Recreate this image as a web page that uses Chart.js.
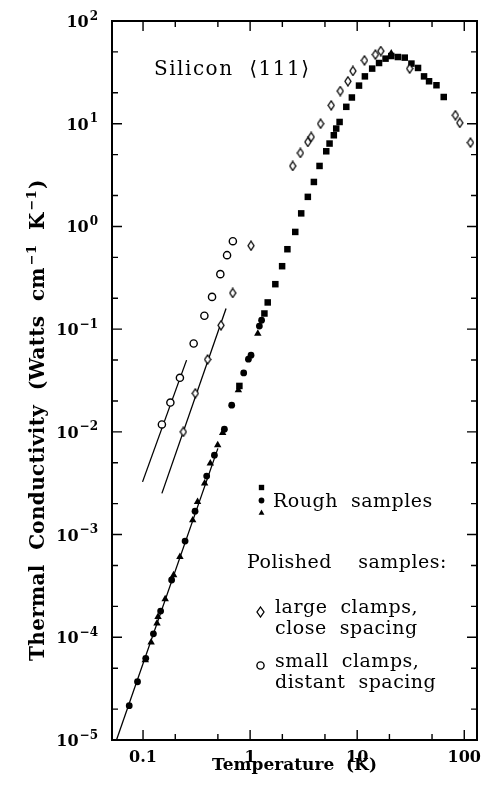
<!DOCTYPE html>
<html><head><meta charset="utf-8">
<script src="https://cdn.jsdelivr.net/npm/chart.js@4.4.0/dist/chart.umd.min.js"></script>
<style>html,body{margin:0;padding:0;background:#fff}canvas{display:block}</style>
</head><body>
<canvas id="c" width="485" height="788"></canvas>
<script>
// ---- axis ticks ----
const xMajorTicks = [0.1, 1, 10, 100];
const xMinorTicks = [0.2, 0.5, 2, 5, 20, 50];
const xTickLabels = ['0.1', '1', '10', '100'];
const yMajorTicks = [1e-5, 1e-4, 1e-3, 1e-2, 1e-1, 1, 10, 100];
const yMinorTicks = [2e-5, 5e-5, 2e-4, 5e-4, 2e-3, 5e-3, 2e-2, 5e-2, 0.2, 0.5, 2, 5, 20, 50];
const yTickBase = '10';
const yTickExponents = ['\u22125', '\u22124', '\u22123', '\u22122', '\u22121', '0', '1', '2'];

// ---- data (Temperature K, Conductivity W cm^-1 K^-1) ----
const roughSquaresT = [0.794,1.36,1.46,1.72,1.99,2.23,2.64,3.00,3.46,3.94,4.45,5.14,5.52,6.05,6.37,6.85,7.91,8.92,10.4,11.8,13.8,16.0,18.4,20.8,24.0,27.8,32.1,37.0,42.1,46.9,55.0,64.3];
const roughSquaresK = [0.0280,0.142,0.182,0.274,0.410,0.600,0.884,1.34,1.94,2.71,3.88,5.39,6.41,7.72,8.97,10.4,14.6,18.0,23.5,28.9,34.4,39.0,43.0,45.6,44.6,44.0,38.5,34.9,28.9,25.9,23.7,18.2];
const roughCirclesT = [1.28,1.22,1.02,0.964,0.871,0.673,0.575,0.464,0.393,0.306,0.247,0.185,0.146,0.125,0.106,0.0888,0.0743];
const roughCirclesK = [0.122,0.107,0.0558,0.0510,0.0375,0.0182,0.0106,0.00593,0.00371,0.00169,0.000865,0.000361,0.000180,0.000108,6.24e-5,3.69e-5,2.16e-5];
const roughTrianglesT = [20.8,1.18,0.777,0.554,0.498,0.425,0.376,0.323,0.291,0.221,0.193,0.161,0.138,0.135,0.119,0.105];
const roughTrianglesK = [48.5,0.0907,0.0255,0.00978,0.00743,0.00493,0.00315,0.00208,0.00138,0.000608,0.000403,0.000236,0.000158,0.000137,8.93e-5,6.0e-5];
const closeDiamondsT = [0.238,0.308,0.401,0.535,0.688,1.02,2.50,2.95,3.46,3.72,4.55,5.72,6.95,8.19,9.12,11.7,14.8,16.6,30.9,82.7,90.8,114.3];
const closeDiamondsK = [0.0100,0.0237,0.0507,0.109,0.225,0.649,3.88,5.19,6.64,7.43,10.0,15.1,20.8,25.9,32.6,41.4,47.1,51.0,34.4,12.1,10.2,6.55];
const distantCirclesT = [0.150,0.180,0.221,0.297,0.374,0.441,0.527,0.609,0.690];
const distantCirclesK = [0.0118,0.0193,0.0336,0.0725,0.135,0.206,0.343,0.525,0.718];
// straight guide lines (end points)
const roughFitT = [0.0565, 0.50];
const roughFitK = [1.0e-5, 0.0069];
const closeFitT = [0.150, 0.596];
const closeFitK = [0.00252, 0.159];
const distantFitT = [0.0989, 0.255];
const distantFitK = [0.00326, 0.0499];

const pts = (T, K) => T.map((t, i) => ({x: t, y: K[i]}));

// open narrow diamond marker
function diamondImg(w, h, lw) {
  const c = document.createElement('canvas');
  c.width = w + 2; c.height = h + 2;
  const g = c.getContext('2d');
  g.lineWidth = lw; g.strokeStyle = '#000'; g.fillStyle = '#fff';
  g.beginPath();
  g.moveTo(c.width / 2, 1); g.lineTo(c.width - 1, c.height / 2);
  g.lineTo(c.width / 2, c.height - 1); g.lineTo(1, c.height / 2); g.closePath();
  g.fill(); g.stroke();
  return c;
}
const diamond = diamondImg(6, 9, 1.3);
const diamondLegend = diamondImg(7, 10, 1.3);

const SERIF = '"DejaVu Serif", "Liberation Serif", serif';
const isMajor = v => Math.abs(Math.log10(v) - Math.round(Math.log10(v))) < 1e-9;

function setTicks(major, minor) {
  return scale => {
    scale.ticks = major.concat(minor).sort((a, b) => a - b).map(v => ({value: v, major: isMajor(v)}));
  };
}

// draw runs of text with different fonts / vertical shifts
function runsWidth(ctx, runs) {
  let w = 0;
  runs.forEach(r => { ctx.font = r.font; w += ctx.measureText(r.t).width + (r.gap || 0); });
  return w;
}
function drawRuns(ctx, runs, x, y) {
  let cx = x;
  runs.forEach(r => {
    ctx.font = r.font;
    cx += (r.gap || 0);
    ctx.fillText(r.t, cx, y + (r.dy || 0));
    cx += ctx.measureText(r.t).width;
  });
}

const framePlugin = {
  id: 'frame',
  afterDatasetsDraw(chart) {
    const {ctx, chartArea: a, scales: {x, y}} = chart;
    ctx.save();
    ctx.strokeStyle = '#000';
    ctx.lineWidth = 1.4;
    ctx.beginPath();
    x.ticks.forEach(t => {
      const px = x.getPixelForValue(t.value);
      const len = t.major ? 10 : 6;
      ctx.moveTo(px, a.bottom); ctx.lineTo(px, a.bottom - len);
      ctx.moveTo(px, a.top); ctx.lineTo(px, a.top + len);
    });
    y.ticks.forEach(t => {
      const py = y.getPixelForValue(t.value);
      const len = t.major ? 10 : 6;
      ctx.moveTo(a.left, py); ctx.lineTo(a.left + len, py);
      ctx.moveTo(a.right, py); ctx.lineTo(a.right - len, py);
    });
    ctx.stroke();
    ctx.lineWidth = 2;
    ctx.strokeRect(a.left, a.top, a.right - a.left, a.bottom - a.top);

    ctx.fillStyle = '#000';
    ctx.textBaseline = 'alphabetic';
    ctx.textAlign = 'left';

    // y tick labels: 10 with raised exponent
    const baseFont = 'bold 16px ' + SERIF, expFont = 'bold 12px ' + SERIF;
    yMajorTicks.forEach((v, i) => {
      const py = y.getPixelForValue(v);
      const runs = [{t: yTickBase, font: baseFont}, {t: yTickExponents[i], font: expFont, dy: -7.5, gap: 1}];
      const w = runsWidth(ctx, runs);
      drawRuns(ctx, runs, a.left - 14 - w, py + 6);
    });

    // texts
    ctx.letterSpacing = '1.5px';
    ctx.font = '20px ' + SERIF;
    ctx.fillText('Silicon  ⟨111⟩', 154, 75);

    ctx.letterSpacing = '0.5px';
    ctx.font = '19px ' + SERIF;
    ctx.fillText('Rough  samples', 273, 507);
    ctx.fillText('Polished    samples:', 247, 568);
    ctx.fillText('large  clamps,', 275, 613);
    ctx.fillText('close  spacing', 275, 634);
    ctx.fillText('small  clamps,', 275, 667);
    ctx.fillText('distant  spacing', 275, 688);
    ctx.letterSpacing = '0px';

    // legend markers
    const dp = Chart.helpers.drawPoint;
    ctx.fillStyle = '#000'; ctx.strokeStyle = '#000';
    dp(ctx, {pointStyle: 'rect', radius: 3.8, borderWidth: 0, rotation: 0}, 261.5, 487.5);
    dp(ctx, {pointStyle: 'circle', radius: 2.9, borderWidth: 0, rotation: 0}, 261.5, 500.5);
    dp(ctx, {pointStyle: 'triangle', radius: 3.4, borderWidth: 0, rotation: 0}, 261.5, 513);
    dp(ctx, {pointStyle: diamondLegend, radius: 5, borderWidth: 0, rotation: 0}, 260.5, 612);
    ctx.fillStyle = '#fff'; ctx.lineWidth = 1.4;
    dp(ctx, {pointStyle: 'circle', radius: 3.6, borderWidth: 1.4, rotation: 0}, 260.5, 665.5);

    // y axis title
    ctx.save();
    ctx.fillStyle = '#000';
    ctx.translate(44, 420);
    ctx.rotate(-Math.PI / 2);
    ctx.textAlign = 'left';
    ctx.textBaseline = 'alphabetic';
    ctx.letterSpacing = '0.3px';
    const tf = 'bold 20px ' + SERIF, sf = 'bold 13px ' + SERIF;
    const titleRuns = [
      {t: 'Thermal  Conductivity  (Watts  cm', font: tf},
      {t: '\u22121', font: sf, dy: -8, gap: 2},
      {t: '  K', font: tf},
      {t: '\u22121', font: sf, dy: -8, gap: 2},
      {t: ')', font: tf, gap: 1}
    ];
    const tw = runsWidth(ctx, titleRuns);
    drawRuns(ctx, titleRuns, -tw / 2, 0);
    ctx.letterSpacing = '0px';
    ctx.restore();
    ctx.restore();
  }
};

const black = '#000';
new Chart(document.getElementById('c'), {
  type: 'scatter',
  data: {
    datasets: [
      {label: 'large clamps, close spacing', data: pts(closeDiamondsT, closeDiamondsK), pointStyle: diamond, pointRadius: 5, order: 1},
      {label: 'small clamps, distant spacing', data: pts(distantCirclesT, distantCirclesK), pointStyle: 'circle', pointRadius: 3.6, borderWidth: 1.4, borderColor: black, backgroundColor: '#fff', order: 2},
      {label: 'Rough squares', data: pts(roughSquaresT, roughSquaresK), pointStyle: 'rect', pointRadius: 4.6, borderWidth: 0, backgroundColor: black, order: 3},
      {label: 'Rough circles', data: pts(roughCirclesT, roughCirclesK), pointStyle: 'circle', pointRadius: 3.4, borderWidth: 0, backgroundColor: black, order: 4},
      {label: 'Rough triangles', data: pts(roughTrianglesT, roughTrianglesK), pointStyle: 'triangle', pointRadius: 4.3, borderWidth: 0, backgroundColor: black, order: 5},
      {label: 'rough fit', data: pts(roughFitT, roughFitK), showLine: true, pointRadius: 0, borderColor: black, borderWidth: 1.3, order: 6},
      {label: 'close fit', data: pts(closeFitT, closeFitK), showLine: true, pointRadius: 0, borderColor: black, borderWidth: 1.3, order: 7},
      {label: 'distant fit', data: pts(distantFitT, distantFitK), showLine: true, pointRadius: 0, borderColor: black, borderWidth: 1.3, order: 8}
    ]
  },
  options: {
    responsive: false,
    animation: false,
    devicePixelRatio: 1,
    layout: {padding: {top: 21, right: 8, left: 0, bottom: 0}},
    plugins: {legend: {display: false}, tooltip: {enabled: false}},
    elements: {point: {hoverRadius: 0}},
    scales: {
      x: {
        type: 'logarithmic', min: 0.0513, max: 131.5,
        afterBuildTicks: setTicks(xMajorTicks, xMinorTicks),
        afterFit: s => { s.height = 48; },
        grid: {display: false},
        border: {display: false},
        ticks: {
          autoSkip: false, maxRotation: 0, padding: 0, color: black,
          font: {family: SERIF, size: 16, weight: 'bold'},
          callback: v => { const i = xMajorTicks.findIndex(m => Math.abs(m - v) / m < 1e-9); return i >= 0 ? xTickLabels[i] : ''; }
        },
        title: {display: true, text: 'Temperature  (K)', color: black, font: {family: SERIF, size: 17, weight: 'bold'}, padding: {top: 0, bottom: 12}}
      },
      y: {
        type: 'logarithmic', min: 1e-5, max: 100,
        afterBuildTicks: setTicks(yMajorTicks, yMinorTicks),
        afterFit: s => { s.width = 112; },
        grid: {display: false},
        border: {display: false},
        ticks: {display: false}
      }
    }
  },
  plugins: [framePlugin]
});
</script>
</body></html>
